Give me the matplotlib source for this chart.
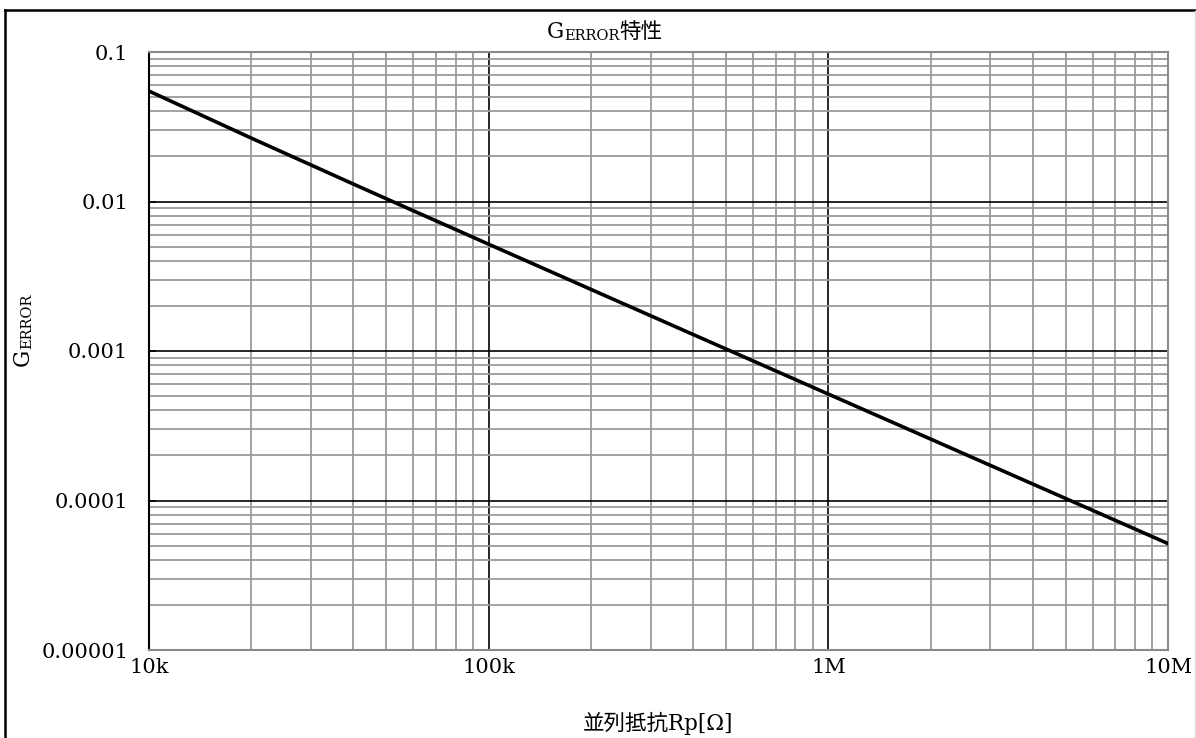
import matplotlib
matplotlib.use('Agg')
import matplotlib.pyplot as plt
from matplotlib.lines import Line2D
from matplotlib.ticker import FixedLocator, NullFormatter, LogLocator

plt.rcParams['font.family'] = ['DejaVu Serif', 'Noto Sans CJK JP', 'DejaVu Sans']

# parallel resistance [ohm] and G_ERROR
rp = [10e3, 20e3, 40e3, 60e3, 80e3, 100e3, 200e3, 400e3, 600e3, 800e3,
      1e6, 2e6, 4e6, 6e6, 8e6, 10e6]
g_error = [0.0548, 0.02655, 0.01307, 0.00867, 0.00649, 0.00518, 0.002583,
           0.001289, 0.000859, 0.000644, 0.000515, 0.0002576, 0.0001288,
           0.0000859, 0.0000644, 0.0000515]

x_ticks = [1e4, 1e5, 1e6, 1e7]
x_labels = ['10k', '100k', '1M', '10M']
y_ticks = [1e-5, 1e-4, 1e-3, 1e-2, 1e-1]
y_labels = ['0.00001', '0.0001', '0.001', '0.01', '0.1']

W, H = 1196, 738
fig = plt.figure(figsize=(W / 100, H / 100), dpi=100)
ax = fig.add_axes([149 / W, 1 - 650 / H, (1168 - 149) / W, (650 - 52) / H])

ax.plot(rp, g_error, color='black', linewidth=2.6, zorder=3)

ax.set_xscale('log')
ax.set_yscale('log')
ax.set_xlim(1e4, 1e7)
ax.set_ylim(1e-5, 1e-1)

ax.xaxis.set_major_locator(FixedLocator(x_ticks))
ax.set_xticklabels(x_labels)
ax.yaxis.set_major_locator(FixedLocator(y_ticks))
ax.set_yticklabels(y_labels)
ax.xaxis.set_minor_locator(LogLocator(base=10, subs=range(2, 10), numticks=20))
ax.yaxis.set_minor_locator(LogLocator(base=10, subs=range(2, 10), numticks=20))
ax.xaxis.set_minor_formatter(NullFormatter())
ax.yaxis.set_minor_formatter(NullFormatter())

ax.grid(which='minor', color='#9a9a9a', linewidth=1.3)
ax.grid(which='major', color='black', linewidth=1.2)
ax.set_axisbelow(True)

ax.tick_params(axis='x', which='both', length=0, pad=6, labelsize=15)
ax.tick_params(axis='y', which='major', direction='in', length=5, width=1.2,
               pad=15, labelsize=15)
ax.tick_params(axis='y', which='minor', length=0)

for side in ['top', 'right', 'bottom']:
    ax.spines[side].set_color('#8a8a8a')
    ax.spines[side].set_linewidth(1.5)
ax.spines['left'].set_color('black')
ax.spines['left'].set_linewidth(1.5)

# title with small caps "ERROR"
t1 = fig.text(547 / W, 1 - 38 / H, 'G', fontsize=15.5, ha='left', va='baseline')
a2 = ax.annotate('ERROR', xy=(1, 0), xycoords=t1, fontsize=10.5,
                 ha='left', va='bottom')
ax.annotate('特性', xy=(1, 0), xycoords=a2, fontsize=15.5, ha='left', va='bottom')

# y label
g1 = fig.text(23 / W, 1 - 366 / H, 'G', fontsize=15.5, rotation=90,
              ha='center', va='bottom')
ax.annotate('ERROR', xy=(1, 1), xycoords=g1, fontsize=10.5, rotation=90,
            ha='right', va='bottom')

# x label
ax.set_xlabel('並列抵抗Rp[Ω]', fontsize=15.5, labelpad=25)

# outer frame
fig.add_artist(Line2D([5 / W, 5 / W], [0, 1 - 10 / H], color='black', linewidth=1.8,
                      transform=fig.transFigure))
fig.add_artist(Line2D([5 / W, 1], [1 - 10 / H, 1 - 10 / H], color='black',
                      linewidth=1.8, transform=fig.transFigure))
fig.add_artist(Line2D([1194.5 / W, 1194.5 / W], [0, 1 - 11 / H], color='#dddddd',
                      linewidth=1, transform=fig.transFigure))

fig.savefig('out.png', dpi=100)
